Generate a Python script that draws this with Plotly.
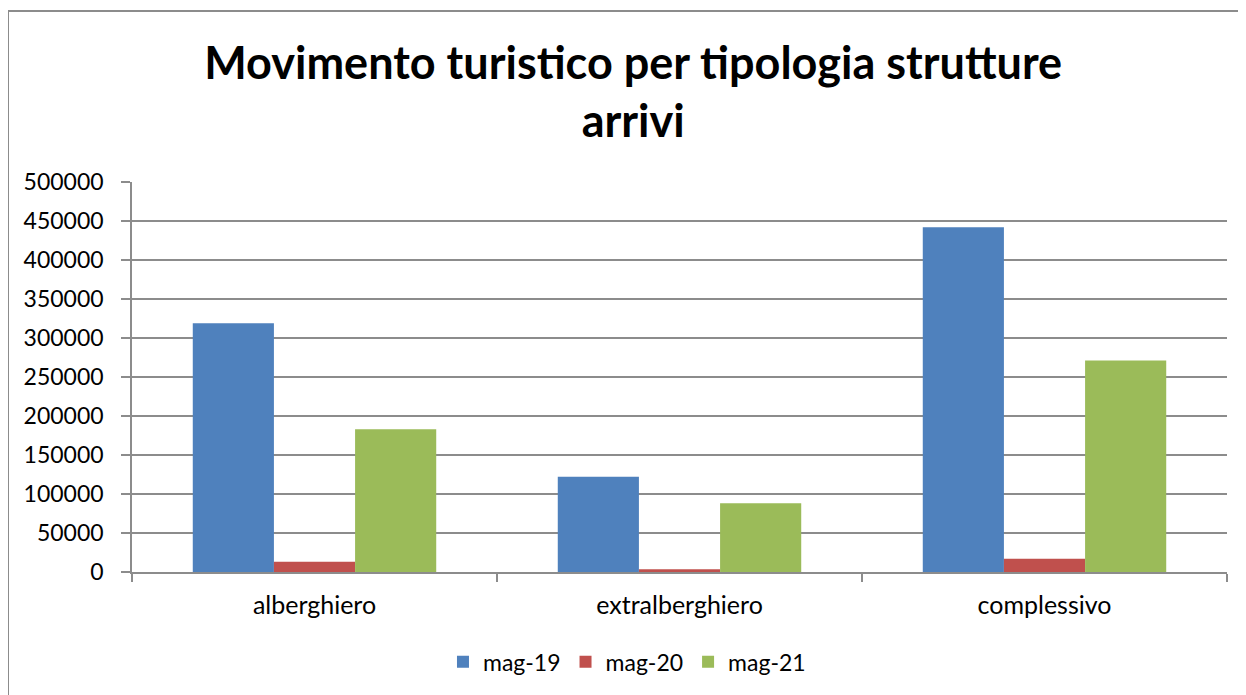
import plotly.graph_objects as go

categories = ["alberghiero", "extralberghiero", "complessivo"]
mag19 = [319000, 122000, 442000]
mag20 = [13000, 3500, 17000]
mag21 = [183000, 88000, 271000]
series_names = ["mag-19", "mag-20", "mag-21"]
colors = ["#4F81BD", "#C0504D", "#9BBB59"]
y_ticks = [0, 50000, 100000, 150000, 200000, 250000, 300000, 350000, 400000, 450000, 500000]

FONT = "Lato, Carlito, Calibri, sans-serif"

fig = go.Figure()
for name, vals, col in zip(series_names, [mag19, mag20, mag21], colors):
    fig.add_trace(go.Bar(x=categories, y=vals, name=name, marker=dict(color=col, line=dict(width=0))))

# page has an 8px body margin: figure is offset by (8, 8)
W, H = 1238, 687
L, T = 124, 174
pw, ph = 1095, 390
R, B = W - L - pw, H - T - ph

fig.update_layout(
    width=W, height=H,
    margin=dict(l=L, r=R, t=T, b=B, autoexpand=False),
    paper_bgcolor="white", plot_bgcolor="white",
    barmode="group", bargap=0.333, bargroupgap=0,
    title=dict(text="<b>Movimento turistico per tipologia strutture<br>arrivi</b>",
               x=0.505, xanchor="center", y=0.897, yanchor="top",
               font=dict(family=FONT, size=45, color="black")),
    font=dict(family=FONT, size=23, color="black"),
    legend=dict(orientation="h", x=0.284, xanchor="left", y=-0.175, yanchor="top",
                font=dict(size=23), itemwidth=30, traceorder="normal"),
    showlegend=True,
)
fig.update_yaxes(range=[0, 500000], tickvals=y_ticks, ticktext=[str(v) for v in y_ticks],
                 showgrid=True, gridcolor="#8c8c8c", gridwidth=1.5,
                 showline=True, linecolor="#8c8c8c", linewidth=1.5,
                 ticks="outside", ticklen=9, tickcolor="#8c8c8c", tickwidth=1.5,
                 zeroline=False, tickfont=dict(size=23), ticklabelstandoff=13)
fig.update_xaxes(showline=True, linecolor="#8c8c8c", linewidth=1.5,
                 ticks="outside", ticklen=8, tickcolor="#8c8c8c", tickwidth=1.5,
                 tickson="boundaries", showgrid=False, tickfont=dict(size=25),
                 ticklabelstandoff=10)

# outer chart border
fig.add_shape(type="rect", xref="paper", yref="paper",
              x0=(0 - L) / pw, x1=(W + 30 - L) / pw,
              y0=-(B + 30) / ph, y1=(H - 3 - B) / ph,
              line=dict(color="#8c8c8c", width=2), fillcolor="rgba(0,0,0,0)", layer="below")

fig.write_html("out.html")
